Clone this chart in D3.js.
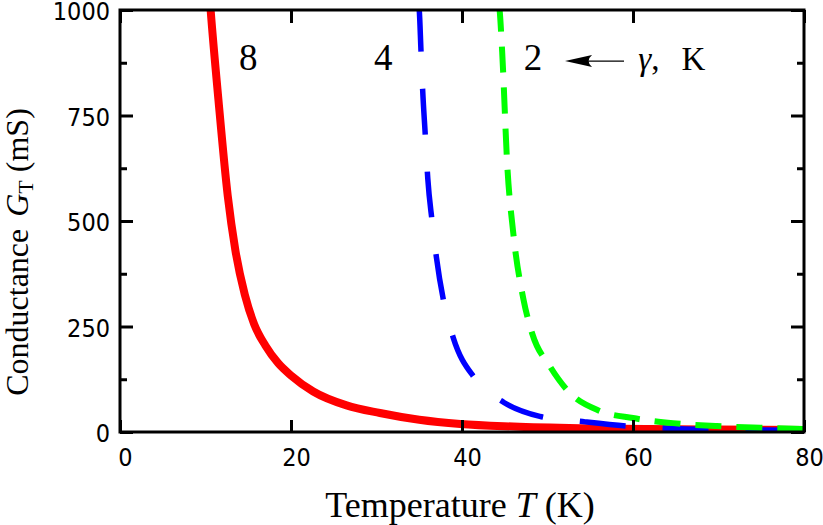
<!DOCTYPE html>
<html>
<head>
<meta charset="utf-8">
<script src="https://cdn.jsdelivr.net/npm/d3@7"></script>
<style>
  html, body { margin: 0; padding: 0; background: #fff; }
  svg { display: block; }
</style>
</head>
<body>
<svg id="chart" width="823" height="525"></svg>
<script>
// ---- data ----
const xTicks = [0, 20, 40, 60, 80];
const yTicks = [0, 250, 500, 750, 1000];
const yMinorTicks = [125, 375, 625, 875];

const redT   = [10.45, 10.6, 11.5, 12.6, 13.5, 14.6, 15.7, 17.0, 18.5, 20.0, 22.6, 26.5, 30.4, 35.0, 39.8, 46.0, 53.8, 62.0, 70.0, 80.0];
const redG   = [1040, 1000, 790, 560, 430, 325, 255, 205, 163, 134, 96, 63, 45, 29, 19, 13, 9, 7, 6, 5];

const blueT  = [34.95, 35.0, 35.2, 35.4, 35.7, 36.0, 36.5, 37.0, 37.9, 39.0, 41.5, 44.9, 49.1, 54.4, 59.4, 63.9, 69.4, 80.0];
const blueG  = [1010, 1000, 905, 810, 705, 600, 500, 415, 305, 222, 127, 70, 37, 24, 14, 9, 6, 4];

const greenT = [44.35, 44.4, 44.7, 45.3, 46.0, 47.2, 48.2, 50.3, 52.5, 56.1, 60.0, 64.7, 69.8, 74.9, 80.0];
const greenG = [1010, 1000, 900, 630, 471, 313, 234, 155, 95, 50, 33, 21, 14, 10, 7];

const curveLabels = ["8", "4", "2"];
const curveLabelT = [15.0, 30.8, 48.3];

// ---- layout ----
const svg = d3.select("#chart");
const x = d3.scaleLinear().domain([0, 80]).range([120, 804]);
const y = d3.scaleLinear().domain([0, 1000]).range([432, 10]);

const tickFont = "'DejaVu Sans Condensed', 'DejaVu Sans', sans-serif";
const serif = "'Liberation Serif', 'Times New Roman', serif";

svg.append("defs").append("clipPath").attr("id", "plotclip")
  .append("rect").attr("x", 120).attr("y", 10).attr("width", 684).attr("height", 422);

// ---- curves ----
const line = d3.line().x(d => x(d[0])).y(d => y(d[1])).curve(d3.curveMonotoneX);
const plot = svg.append("g").attr("clip-path", "url(#plotclip)");

plot.append("path").datum(redT.map((t, i) => [t, redG[i]]))
  .attr("d", line).attr("fill", "none").attr("stroke", "#ff0000").attr("stroke-width", 8);
plot.append("path").datum(blueT.map((t, i) => [t, blueG[i]]))
  .attr("d", line).attr("fill", "none").attr("stroke", "#0000ff").attr("stroke-width", 5.5)
  .attr("stroke-dasharray", "46,37");
plot.append("path").datum(greenT.map((t, i) => [t, greenG[i]]))
  .attr("d", line).attr("fill", "none").attr("stroke", "#00ff00").attr("stroke-width", 6)
  .attr("stroke-dasharray", "26,15");

// ---- axes ----
function styleAxis(g) {
  g.select(".domain").remove();
  g.selectAll(".tick line").attr("stroke", "#000").attr("stroke-width", 3);
  g.selectAll(".tick text").attr("font-family", tickFont).attr("font-size", 25).attr("fill", "#000");
}
const fmt = d3.format("d");

svg.append("g").attr("transform", "translate(0,432)")
  .call(d3.axisBottom(x).tickValues(xTicks).tickFormat(fmt).tickSize(-12).tickPadding(16))
  .call(styleAxis)
  .call(g => g.selectAll(".tick text").attr("dx", 5));
svg.append("g").attr("transform", "translate(0,10)")
  .call(d3.axisTop(x).tickValues(xTicks).tickSize(-13).tickFormat(""))
  .call(styleAxis);
svg.append("g").attr("transform", "translate(120,0)")
  .call(d3.axisLeft(y).tickValues(yTicks).tickFormat(fmt).tickSize(-13).tickPadding(10))
  .call(styleAxis)
  .call(g => g.selectAll(".tick text").attr("dy", "0.38em"));
svg.append("g").attr("transform", "translate(120,0)")
  .call(d3.axisLeft(y).tickValues(yMinorTicks).tickSize(-7).tickFormat(""))
  .call(styleAxis);
svg.append("g").attr("transform", "translate(804,0)")
  .call(d3.axisRight(y).tickValues(yTicks).tickSize(-13).tickFormat(""))
  .call(styleAxis);
svg.append("g").attr("transform", "translate(804,0)")
  .call(d3.axisRight(y).tickValues(yMinorTicks).tickSize(-7).tickFormat(""))
  .call(styleAxis);

// frame
svg.append("rect").attr("x", 120).attr("y", 10).attr("width", 684).attr("height", 422)
  .attr("fill", "none").attr("stroke", "#000").attr("stroke-width", 3);

// ---- axis titles ----
const xt = svg.append("text").attr("x", 460).attr("y", 517)
  .attr("text-anchor", "middle").attr("font-family", serif).attr("font-size", 36).attr("fill", "#000");
xt.append("tspan").text("Temperature ");
xt.append("tspan").attr("font-style", "italic").text("T");
xt.append("tspan").text(" (K)");

const yt = svg.append("text").attr("transform", "translate(28,252) rotate(-90)")
  .attr("text-anchor", "middle").attr("font-family", serif).attr("font-size", 32).attr("fill", "#000");
yt.append("tspan").text("Conductance");
yt.append("tspan").attr("dx", 12).attr("font-style", "italic").text("G");
yt.append("tspan").attr("font-size", 22).attr("dy", 5).text("T");
yt.append("tspan").attr("dy", -5).text(" (mS)");

// ---- annotations ----
svg.selectAll("text.clabel").data(curveLabels).join("text").attr("class", "clabel")
  .attr("x", (d, i) => x(curveLabelT[i])).attr("y", y(858))
  .attr("text-anchor", "middle").attr("font-family", serif).attr("font-size", 37).attr("fill", "#000")
  .text(d => d);

const ay = y(879);
svg.append("line").attr("x1", x(52.9)).attr("x2", x(58.95)).attr("y1", ay).attr("y2", ay)
  .attr("stroke", "#000").attr("stroke-width", 1.3);
const tip = x(52.05);
svg.append("path")
  .attr("d", `M${tip},${ay} L${tip + 27},${ay - 6} Q${tip + 20},${ay} ${tip + 27},${ay + 6} Z`)
  .attr("fill", "#000");

const gk = svg.append("text").attr("x", x(60.6)).attr("y", y(858))
  .attr("font-family", serif).attr("font-size", 33).attr("fill", "#000");
gk.append("tspan").attr("font-style", "italic").text("γ");
gk.append("tspan").text(",");
gk.append("tspan").attr("dx", 22).text("K");
</script>
</body>
</html>
